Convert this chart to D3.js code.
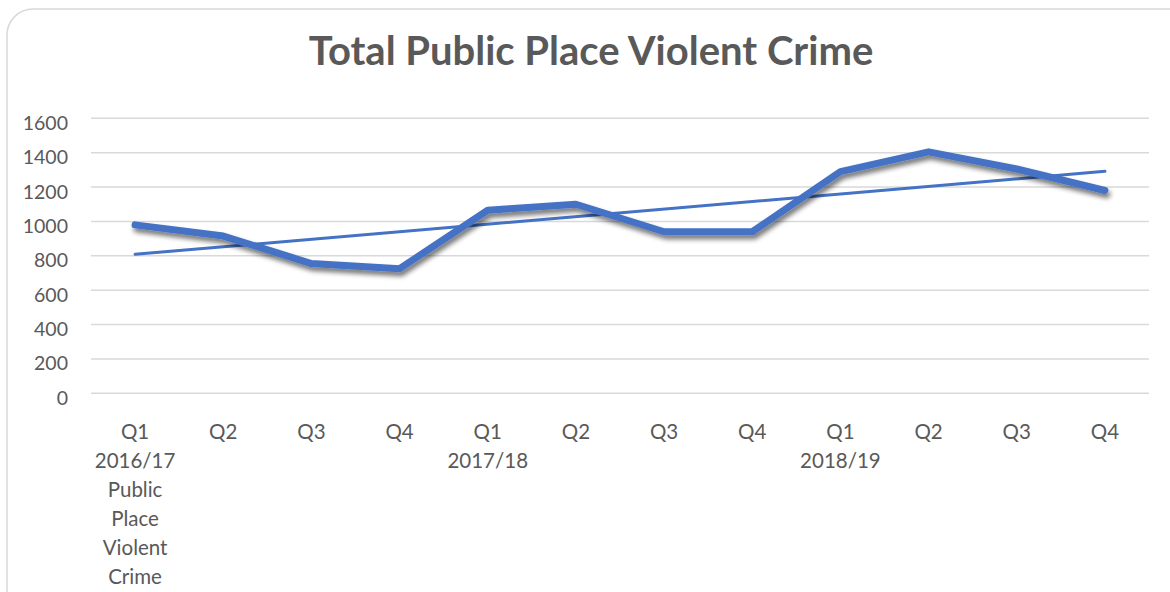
<!DOCTYPE html>
<html><head><meta charset="utf-8">
<script src="https://cdn.jsdelivr.net/npm/d3@7"></script>
<style>body{margin:0;background:#fff}svg{display:block}</style>
</head><body>
<svg id="c" width="1170" height="592"></svg>
<script>
const quarters = ["Q1","Q2","Q3","Q4","Q1","Q2","Q3","Q4","Q1","Q2","Q3","Q4"];
const years = ["2016/17 Public Place Violent Crime","","","","2017/18","","","","2018/19","","",""];
const values = [980, 915, 755, 725, 1065, 1100, 940, 940, 1290, 1405, 1305, 1180];
const yTicks = [0,200,400,600,800,1000,1200,1400,1600];
const title = "Total Public Place Violent Crime";

const svg = d3.select("#c");
const font = "Lato, 'Open Sans', sans-serif";
const txt = "#595959";

svg.append("rect").attr("x",7).attr("y",9).attr("width",1190).attr("height",640)
  .attr("rx",26).attr("fill","#fff").attr("stroke","#d9d9d9").attr("stroke-width",1.5);

const defs = svg.append("defs");
const f = defs.append("filter").attr("id","sh").attr("x","-10%").attr("y","-30%").attr("width","120%").attr("height","160%");
f.append("feGaussianBlur").attr("in","SourceAlpha").attr("stdDeviation",2.5).attr("result","b");
f.append("feOffset").attr("in","b").attr("dx",2).attr("dy",4).attr("result","o");
f.append("feComponentTransfer").attr("in","o").attr("result","o2").append("feFuncA").attr("type","linear").attr("slope",0.55);
const m = f.append("feMerge"); m.append("feMergeNode").attr("in","o2"); m.append("feMergeNode").attr("in","SourceGraphic");

const x = d3.scaleBand().domain(d3.range(quarters.length)).range([91,1149]);
const y = d3.scaleLinear().domain([0,1600]).range([393.3,118.3]);

svg.append("text").attr("x",591).attr("y",65).attr("text-anchor","middle")
  .attr("font-family",font).attr("font-weight","bold").attr("font-size",40).attr("fill",txt).text(title);

const gy = svg.append("g");
gy.selectAll("line").data(yTicks).join("line")
  .attr("x1",91).attr("x2",1149).attr("y1",d=>y(d)).attr("y2",d=>y(d))
  .attr("stroke","#d9d9d9").attr("stroke-width",1.5);
gy.selectAll("text").data(yTicks).join("text")
  .attr("x",68).attr("y",d=>y(d)+11.5).attr("text-anchor","end")
  .attr("font-family",font).attr("font-size",19.5).attr("fill",txt).text(d=>d);

const cx = i => x(i)+x.bandwidth()/2;
const gx = svg.append("g");
quarters.forEach((q,i)=>{
  const lines = [q].concat(years[i] ? (i===0 ? ["2016/17","Public","Place","Violent","Crime"] : [years[i]]) : []);
  const t = gx.append("text").attr("text-anchor","middle").attr("font-family",font)
    .attr("font-size",20.5).attr("fill",txt);
  lines.forEach((l,k)=>t.append("tspan").attr("x",cx(i)).attr("y",439+k*29).text(l));
});

// linear trendline (least squares)
const n = values.length, xs = d3.range(n);
const mx = d3.mean(xs), my = d3.mean(values);
const slope = d3.sum(xs,(d,i)=>(d-mx)*(values[i]-my))/d3.sum(xs,d=>(d-mx)**2);
const icpt = my - slope*mx;
svg.append("line").attr("x1",cx(0)).attr("x2",cx(n-1))
  .attr("y1",y(icpt)).attr("y2",y(icpt+slope*(n-1)))
  .attr("stroke","#4472C4").attr("stroke-width",3).attr("stroke-linecap","round");

const line = d3.line().x((d,i)=>cx(i)).y(d=>y(d));
svg.append("path").datum(values).attr("d",line).attr("fill","none")
  .attr("stroke","#4472C4").attr("stroke-width",7).attr("stroke-linecap","round")
  .attr("stroke-linejoin","round").attr("filter","url(#sh)");
</script>
</body></html>
